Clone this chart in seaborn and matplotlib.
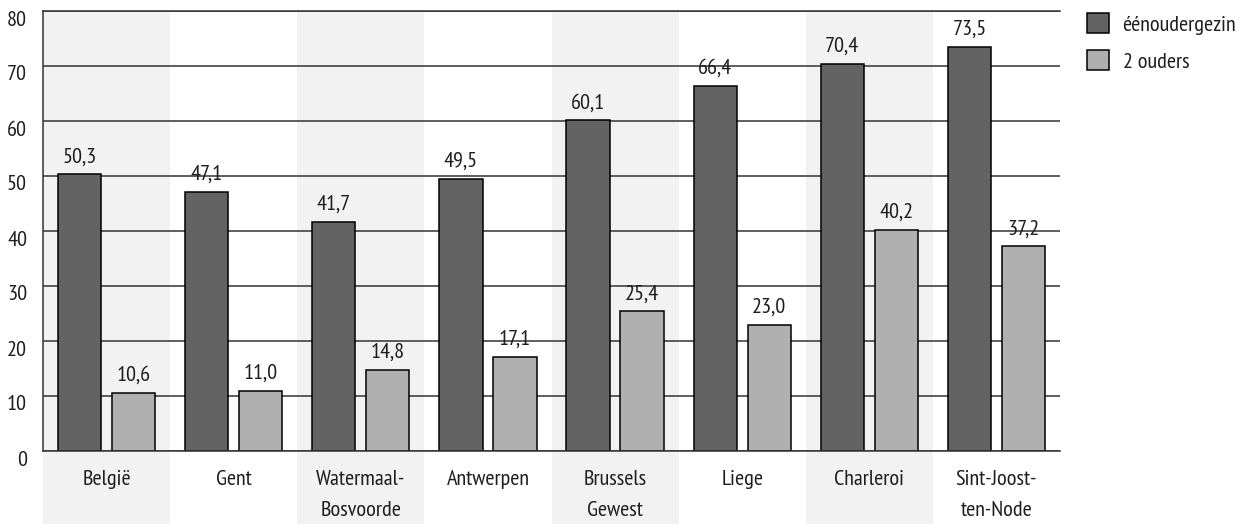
import matplotlib
matplotlib.use("Agg")
import matplotlib.pyplot as plt
import matplotlib.transforms as mtransforms
from matplotlib.patches import Patch
import pandas as pd
import seaborn as sns

# data
regios = ["België", "Gent", "Watermaal-\nBosvoorde", "Antwerpen", "Brussels\nGewest",
          "Liege", "Charleroi", "Sint-Joost-\nten-Node"]
eenouder = [50.3, 47.1, 41.7, 49.5, 60.1, 66.4, 70.4, 73.5]
twee_ouders = [10.6, 11.0, 14.8, 17.1, 25.4, 23.0, 40.2, 37.2]
reeksen = ["éénoudergezin", "2 ouders"]
kleuren = ["#636363", "#b0b0b0"]
yticks = [0, 10, 20, 30, 40, 50, 60, 70, 80]

df = pd.DataFrame({
    "regio": regios * 2,
    "waarde": eenouder + twee_ouders,
    "type": [reeksen[0]] * len(regios) + [reeksen[1]] * len(regios),
})

sns.set_style("white")
plt.rcParams["font.family"] = ["PT Sans Narrow", "Sofia Sans Condensed", "DejaVu Sans"]
tekst = "#1e1e1e"
lijn = "#333333"
fs = 16

fig = plt.figure(figsize=(12.44, 5.24), dpi=100)
ax = fig.add_axes([43 / 1244, 1 - 451 / 524, (1060 - 43) / 1244, 440 / 524])

# alternating shaded columns, running down under the labels
for i in range(0, len(regios), 2):
    ax.axvspan(i - 0.5, i + 0.5, ymin=-0.166, ymax=1, color="#f2f2f2",
               lw=0, zorder=0, clip_on=False)

sns.barplot(data=df, x="regio", y="waarde", hue="type", palette=kleuren,
            width=0.85, gap=0.2, edgecolor="black", linewidth=1.1,
            legend=False, ax=ax, zorder=2)

# value labels
for cont in ax.containers:
    for bar in cont:
        h = bar.get_height()
        ax.annotate(f"{h:.1f}".replace(".", ","),
                    (bar.get_x() + bar.get_width() / 2, h),
                    xytext=(0, 8.5), textcoords="offset points",
                    ha="center", va="baseline", fontsize=fs, color=tekst)

ax.set_xlim(-0.5, len(regios) - 0.5)
ax.set_ylim(0, 80)
ax.set_yticks(yticks)
ax.yaxis.grid(True, color=lijn, lw=1.1)
ax.set_axisbelow(True)
ax.set_xlabel("")
ax.set_ylabel("")

ax.spines["right"].set_visible(False)
for s in ["left", "top", "bottom"]:
    ax.spines[s].set_color(lijn)
    ax.spines[s].set_linewidth(1.1)

ax.tick_params(axis="both", length=0, labelsize=fs, colors=tekst)
ax.tick_params(axis="y", pad=11.5)
ax.tick_params(axis="x", pad=14)
for lab in ax.get_xticklabels():
    lab.set_linespacing(1.8)

# y labels sit a little below their lines
offset = mtransforms.ScaledTranslation(0, -7 / 100, fig.dpi_scale_trans)
for lab in ax.get_yticklabels():
    lab.set_transform(lab.get_transform() + offset)

handles = [Patch(facecolor=k, edgecolor="black", linewidth=1.1) for k in kleuren]
fig.legend(handles, reeksen, loc="upper left",
           bbox_to_anchor=(1087 / 1244, 1 - 13 / 524), frameon=False,
           fontsize=fs, handlelength=1.0, handleheight=1.0, handletextpad=0.6,
           labelspacing=0.7, borderpad=0, borderaxespad=0, labelcolor=tekst)

fig.savefig("out.png", dpi=100)
